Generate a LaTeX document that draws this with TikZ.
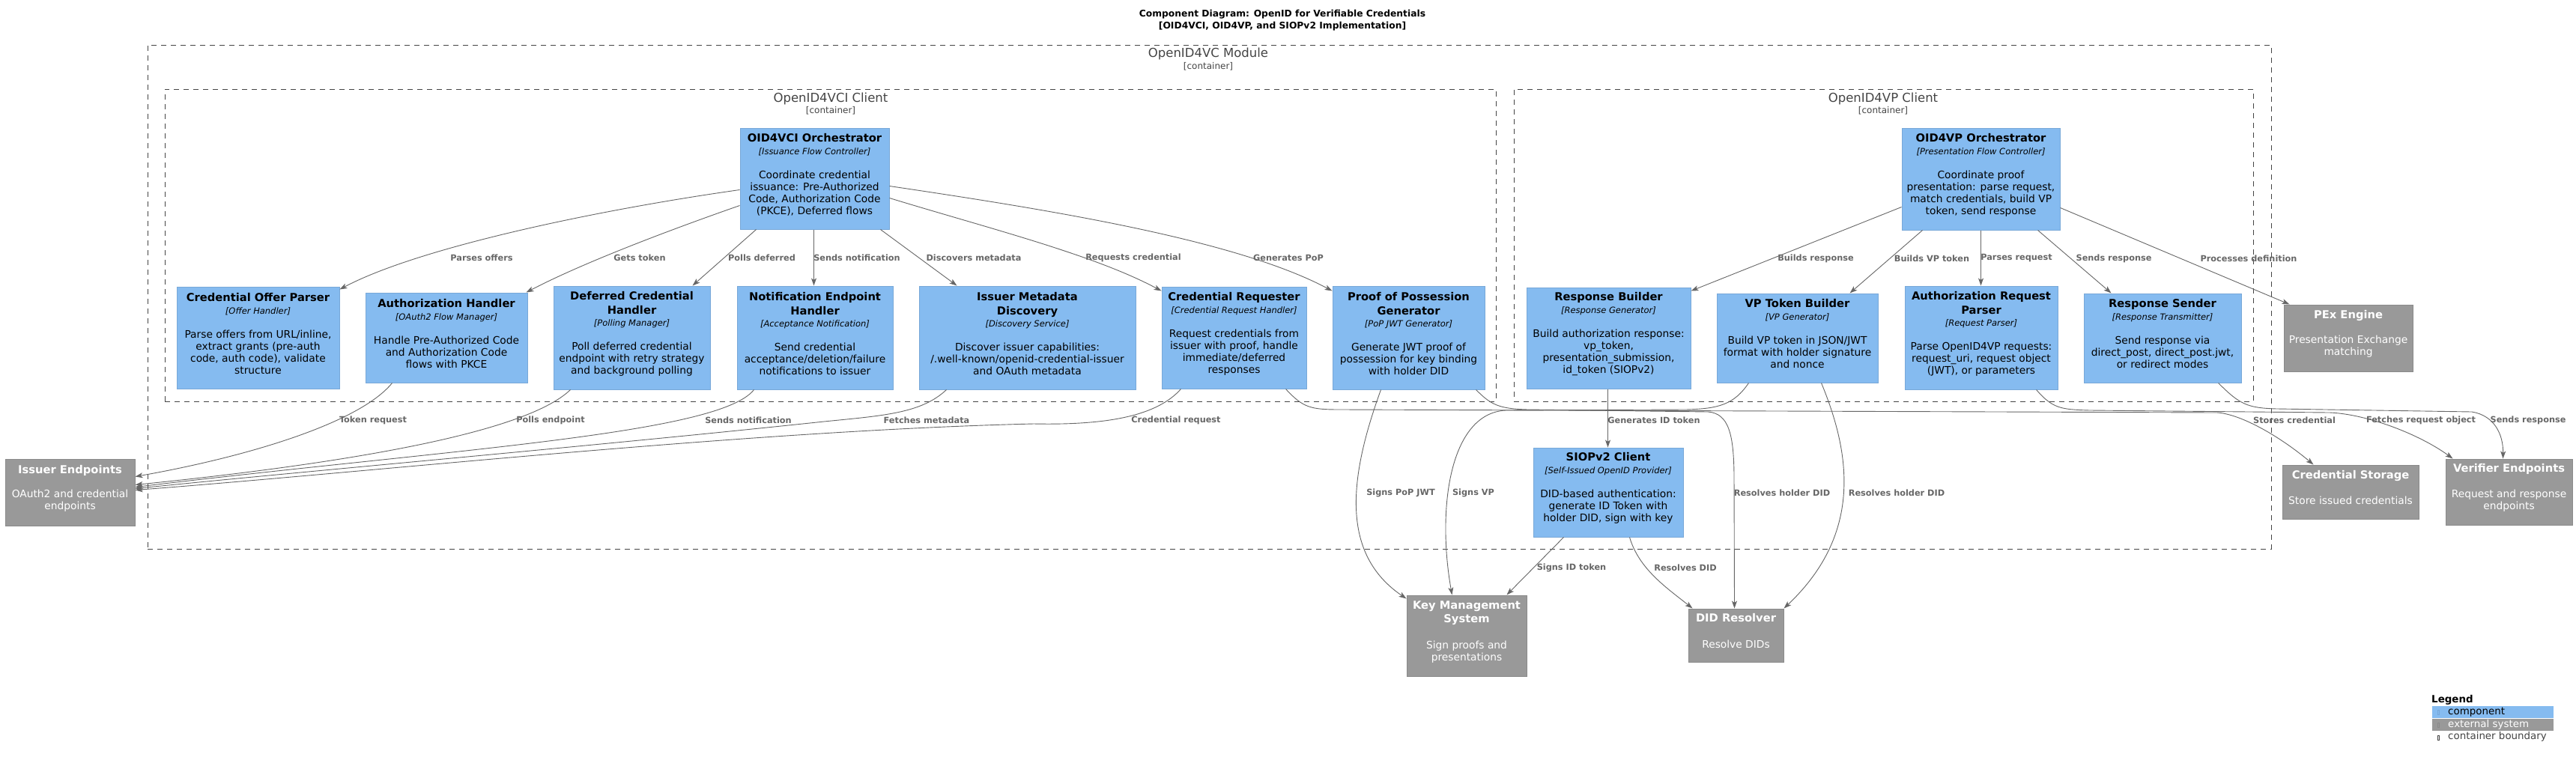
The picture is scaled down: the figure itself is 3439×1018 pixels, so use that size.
\documentclass[tikz,border=0pt]{standalone}
\usepackage{fontspec}
\setmainfont{DejaVu Sans}
\usetikzlibrary{arrows.meta,calc,fit}
\definecolor{compfill}{HTML}{85BBF0}
\definecolor{compborder}{HTML}{78A8D8}
\definecolor{extfill}{HTML}{999999}
\definecolor{extborder}{HTML}{8A8A8A}
\definecolor{bndgray}{HTML}{444444}
\definecolor{relgray}{HTML}{666666}
\newcommand{\ctit}[1]{{\fontsize{14.7}{19}\selectfont\bfseries #1}}
\newcommand{\cster}[1]{{\fontsize{11.5}{14}\selectfont\itshape #1}}
\begin{document}
\begin{tikzpicture}[x=1pt,y=-1pt,
  base/.style={inner sep=0pt, align=center, font=\fontsize{13.8}{16}\selectfont, line width=1pt},
  comp/.style={base, fill=compfill, draw=compborder, text=black},
  extsys/.style={base, fill=extfill, draw=extborder, text=white},
  bound/.style={draw=bndgray, dash pattern=on 7pt off 6pt, line width=1pt, inner sep=0pt},
  bname/.style={text=bndgray, font=\fontsize{16.5}{20}\selectfont, inner sep=0pt},
  btype/.style={text=bndgray, font=\fontsize{12}{14}\selectfont, inner sep=0pt},
  arr/.style={draw=relgray, line width=0.9pt, -{Stealth[length=10pt,width=7pt,inset=2.5pt]}},
  lbl/.style={text=relgray, font=\fontsize{11.3}{14}\selectfont\bfseries, inner sep=0pt},
  legtxt/.style={font=\fontsize{13.4}{16}\selectfont, inner sep=0pt, anchor=west},
]
\useasboundingbox (0,0) rectangle (3439,1018);

% title
\node[font=\fontsize{12.3}{16}\selectfont\bfseries, align=center, inner sep=0pt] (title) at (1712,27)
  {Component Diagram: OpenID for Verifiable Credentials\\{}[OID4VCI, OID4VP, and SIOPv2 Implementation]};

% boundaries
\node[bound, fit={(197,60) (3032,733)}] (module) {};
\node[bname] (modname) at (1613,72) {OpenID4VC Module};
\node[btype] (modtype) at (1613,89) {[container]};
\node[bound, fit={(220,119) (1997,536)}] (vcib) {};
\node[bname] (vciname) at (1109,132) {OpenID4VCI Client};
\node[btype] (vcitype) at (1109,148) {[container]};
\node[bound, fit={(2021,119) (3008,536)}] (vpb) {};
\node[bname] (vpname) at (2514,132) {OpenID4VP Client};
\node[btype] (vptype) at (2514,148) {[container]};

% components
\node[comp, fit={(988,171) (1187,306)}] (vciorch) {\ctit{OID4VCI Orchestrator}\\[1pt]\cster{[Issuance Flow Controller]}\\[16pt]Coordinate credential\\issuance: Pre-Authorized\\Code, Authorization Code\\(PKCE), Deferred flows};
\node[comp, fit={(236,383) (453,519)}] (cop) {\ctit{Credential Offer Parser}\\[1pt]\cster{[Offer Handler]}\\[16pt]Parse offers from URL/inline,\\extract grants (pre-auth\\code, auth code), validate\\structure};
\node[comp, fit={(488,391) (704,511)}] (auth) {\ctit{Authorization Handler}\\[1pt]\cster{[OAuth2 Flow Manager]}\\[16pt]Handle Pre-Authorized Code\\and Authorization Code\\flows with PKCE};
\node[comp, fit={(739,382) (948,520)}] (defer) {\ctit{Deferred Credential}\\[3pt]\ctit{Handler}\\[0pt]\cster{[Polling Manager]}\\[16pt]Poll deferred credential\\endpoint with retry strategy\\and background polling};
\node[comp, fit={(984,382) (1192,520)}] (notif) {\ctit{Notification Endpoint}\\[3pt]\ctit{Handler}\\[0pt]\cster{[Acceptance Notification]}\\[16pt]Send credential\\acceptance/deletion/failure\\notifications to issuer};
\node[comp, fit={(1227,382) (1516,520)}] (meta) {\ctit{Issuer Metadata}\\[3pt]\ctit{Discovery}\\[0pt]\cster{[Discovery Service]}\\[16pt]Discover issuer capabilities:\\/.well-known/openid-credential-issuer\\and OAuth metadata};
\node[comp, fit={(1551,383) (1744,519)}] (credreq) {\ctit{Credential Requester}\\[1pt]\cster{[Credential Request Handler]}\\[16pt]Request credentials from\\issuer with proof, handle\\immediate/deferred\\responses};
\node[comp, fit={(1779,382) (1982,520)}] (pop) {\ctit{Proof of Possession}\\[3pt]\ctit{Generator}\\[0pt]\cster{[PoP JWT Generator]}\\[16pt]Generate JWT proof of\\possession for key binding\\with holder DID};

\node[comp, fit={(2539,171) (2750,307)}] (vporch) {\ctit{OID4VP Orchestrator}\\[1pt]\cster{[Presentation Flow Controller]}\\[16pt]Coordinate proof\\presentation: parse request,\\match credentials, build VP\\token, send response};
\node[comp, fit={(2038,384) (2257,519)}] (respb) {\ctit{Response Builder}\\[1pt]\cster{[Response Generator]}\\[16pt]Build authorization response:\\vp\_token,\\presentation\_submission,\\id\_token (SIOPv2)};
\node[comp, fit={(2292,392) (2507,511)}] (vptb) {\ctit{VP Token Builder}\\[1pt]\cster{[VP Generator]}\\[16pt]Build VP token in JSON/JWT\\format with holder signature\\and nonce};
\node[comp, fit={(2543,382) (2747,520)}] (arp) {\ctit{Authorization Request}\\[3pt]\ctit{Parser}\\[0pt]\cster{[Request Parser]}\\[16pt]Parse OpenID4VP requests:\\request\_uri, request object\\(JWT), or parameters};
\node[comp, fit={(2782,392) (2992,511)}] (rsend) {\ctit{Response Sender}\\[1pt]\cster{[Response Transmitter]}\\[16pt]Send response via\\direct\_post, direct\_post.jwt,\\or redirect modes};
\node[comp, fit={(2047,598) (2247,717)}] (siop) {\ctit{SIOPv2 Client}\\[1pt]\cster{[Self-Issued OpenID Provider]}\\[16pt]DID-based authentication:\\generate ID Token with\\holder DID, sign with key};

% external systems
\node[extsys, fit={(3049,407) (3221,496)}] (pex) {\ctit{PEx Engine}\\[17pt]Presentation Exchange\\matching};
\node[extsys, fit={(3047,621) (3229,693)}] (credstore) {\ctit{Credential Storage}\\[18pt]Store issued credentials};
\node[extsys, fit={(3265,613) (3434,701)}] (verifier) {\ctit{Verifier Endpoints}\\[18pt]Request and response\\endpoints};
\node[extsys, fit={(7,613) (180,702)}] (issuer) {\ctit{Issuer Endpoints}\\[16pt]OAuth2 and credential\\endpoints};
\node[extsys, fit={(1878,795) (2038,903)}] (kms) {\ctit{Key Management}\\[2pt]\ctit{System}\\[19pt]Sign proofs and\\presentations};
\node[extsys, fit={(2254,813) (2381,884)}] (didres) {\ctit{DID Resolver}\\[19pt]Resolve DIDs};

% VCI orchestrator relations
\draw[arr] ($(vciorch.north west)+(0,83)$) .. controls (800,280) and (560,330) .. ($(cop.north east)+(0,4)$);
\draw[arr] ($(vciorch.north west)+(0,104)$) .. controls (900,305) and (780,350) .. ($(auth.north east)+(-2,0)$);
\draw[arr] ($(vciorch.south west)+(22,0)$) -- ($(defer.north west)+(186,0)$);
\draw[arr] ($(vciorch.south west)+(99,0)$) -- ($(notif.north west)+(103,0)$);
\draw[arr] ($(vciorch.south west)+(188,0)$) -- ($(meta.north west)+(51,0)$);
\draw[arr] ($(vciorch.north east)+(0,94)$) .. controls (1320,305) and (1460,340) .. ($(credreq.north west)+(0,6)$);
\draw[arr] ($(vciorch.north east)+(0,78)$) .. controls (1400,280) and (1650,320) .. ($(pop.north west)+(0,7)$);
\node[lbl] (l1) at (643,344) {Parses offers};
\node[lbl] (l2) at (854,344) {Gets token};
\node[lbl] (l3) at (1017,344) {Polls deferred};
\node[lbl] (l4) at (1144,344) {Sends notification};
\node[lbl] (l5) at (1300,344) {Discovers metadata};
\node[lbl] (l6) at (1513,344) {Requests credential};
\node[lbl] (l7) at (1720,344) {Generates PoP};

% VP orchestrator relations
\draw[arr] ($(vporch.north west)+(0,106)$) -- ($(respb.north east)+(0,5)$);
\draw[arr] ($(vporch.south west)+(28,0)$) -- ($(vptb.north west)+(178,0)$);
\draw[arr] ($(vporch.south west)+(106,0)$) -- ($(arp.north west)+(102,0)$);
\draw[arr] ($(vporch.south west)+(182,0)$) -- ($(rsend.north west)+(37,0)$);
\draw[arr] ($(vporch.north east)+(0,107)$) -- ($(pex.north west)+(8,0)$);
\node[lbl] (l8) at (2424,345) {Builds response};
\node[lbl] (l9) at (2579,345) {Builds VP token};
\node[lbl] (l10) at (2692,345) {Parses request};
\node[lbl] (l11) at (2822,345) {Sends response};
\node[lbl] (l12) at (3002,345) {Processes definition};

% to issuer endpoints
\draw[arr] ($(auth.south west)+(36,0)$) .. controls (480,565) and (330,610) .. ($(issuer.north east)+(0,24)$);
\draw[arr] ($(defer.south west)+(23,0)$) .. controls (700,580) and (450,620) .. ($(issuer.north east)+(0,35)$);
\draw[arr] ($(notif.south west)+(23,0)$) .. controls (960,580) and (600,600) .. ($(issuer.north east)+(0,38)$);
\draw[arr] ($(meta.south west)+(37,0)$) .. controls (1230,552) and (1180,555) .. (1100,563) .. controls (800,595) and (400,630) .. ($(issuer.north east)+(0,40)$);
\draw[arr] ($(credreq.south west)+(26,0)$) .. controls (1545,555) and (1480,568) .. (1380,566) .. controls (1000,575) and (500,630) .. ($(issuer.north east)+(0,42)$);
\node[lbl] (l13) at (498,561) {Token request};
\node[lbl] (l14) at (735,561) {Polls endpoint};
\node[lbl] (l15) at (999,561) {Sends notification};
\node[lbl] (l16) at (1237,561) {Fetches metadata};
\node[lbl] (l17) at (1570,561) {Credential request};

% middle relations
\draw[arr] ($(credreq.south east)+(-28,0)$) .. controls (1740,545) and (1750,547) .. (1790,547) -- (2960,551) .. controls (2990,553) and (3040,580) .. ($(credstore.north west)+(42,0)$);
\draw[arr] ($(pop.south west)+(65,0)$) .. controls (1800,640) and (1790,740) .. ($(kms.north west)+(0,5)$);
\draw[arr] ($(pop.south east)+(-12,0)$) .. controls (1990,540) and (2000,546) .. (2040,547) -- (2280,550) .. controls (2308,552) and (2315,580) .. (2315,640) -- ($(didres.north west)+(62,0)$);
\draw[arr] ($(vptb.south west)+(43,0)$) .. controls (2315,540) and (2295,546) .. (2250,547) -- (2010,548) .. controls (1935,552) and (1918,680) .. ($(kms.north west)+(61,0)$);
\draw[arr] ($(vptb.south west)+(140,0)$) .. controls (2468,600) and (2490,710) .. (didres.north east);
\draw[arr] ($(respb.south west)+(109,0)$) -- ($(siop.north west)+(100,0)$);
\draw[arr] ($(siop.south west)+(41,0)$) -- ($(kms.north east)+(-27,0)$);
\draw[arr] ($(siop.south west)+(129,0)$) .. controls (2188,760) and (2225,785) .. ($(didres.north west)+(6,0)$);
\draw[arr] ($(arp.south west)+(176,0)$) .. controls (2740,545) and (2750,547) .. (2790,548) -- (3110,551) .. controls (3160,553) and (3230,580) .. ($(verifier.north west)+(10,0)$);
\draw[arr] ($(rsend.south west)+(180,0)$) .. controls (2990,540) and (3000,545) .. (3040,546) -- (3300,550) .. controls (3330,555) and (3342,580) .. ($(verifier.north west)+(77,0)$);
\node[lbl] (l18) at (2208,561) {Generates ID token};
\node[lbl] (l19) at (3063,561) {Stores credential};
\node[lbl] (l20) at (3232,561) {Fetches request object};
\node[lbl] (l21) at (3375,561) {Sends response};
\node[lbl] (l22) at (1870,658) {Signs PoP JWT};
\node[lbl] (l23) at (1967,658) {Signs VP};
\node[lbl] (l24) at (2379,658) {Resolves holder DID};
\node[lbl] (l25) at (2532,658) {Resolves holder DID};
\node[lbl] (l26) at (2098,758) {Signs ID token};
\node[lbl] (l27) at (2250,758) {Resolves DID};

% legend
\node[legtxt, font=\fontsize{13.4}{16}\selectfont\bfseries] (legtitle) at (3246,935) {Legend};
\node[fill=compfill, inner sep=0pt, fit={(3247,943) (3409,959)}] (legcomp) {};
\node[fill=extfill, inner sep=0pt, fit={(3247,960) (3409,976)}] (legext) {};
\node[draw=compborder, line width=0.5pt, minimum width=2.5pt, minimum height=6pt, inner sep=0pt] (g1) at (3255,951) {};
\node[draw=extborder, line width=0.5pt, minimum width=2.5pt, minimum height=6pt, inner sep=0pt] (g2) at (3255,968) {};
\node[draw=bndgray, line width=0.5pt, minimum width=2.5pt, minimum height=6pt, inner sep=0pt] (g3) at (3255,985) {};
\node[legtxt, text=black] (legcomptxt) at (3268,951) {component};
\node[legtxt, text=white] (legexttxt) at (3268,968) {external system};
\node[legtxt, text=bndgray] (legbndtxt) at (3268,984) {container boundary};
\end{tikzpicture}
\end{document}
